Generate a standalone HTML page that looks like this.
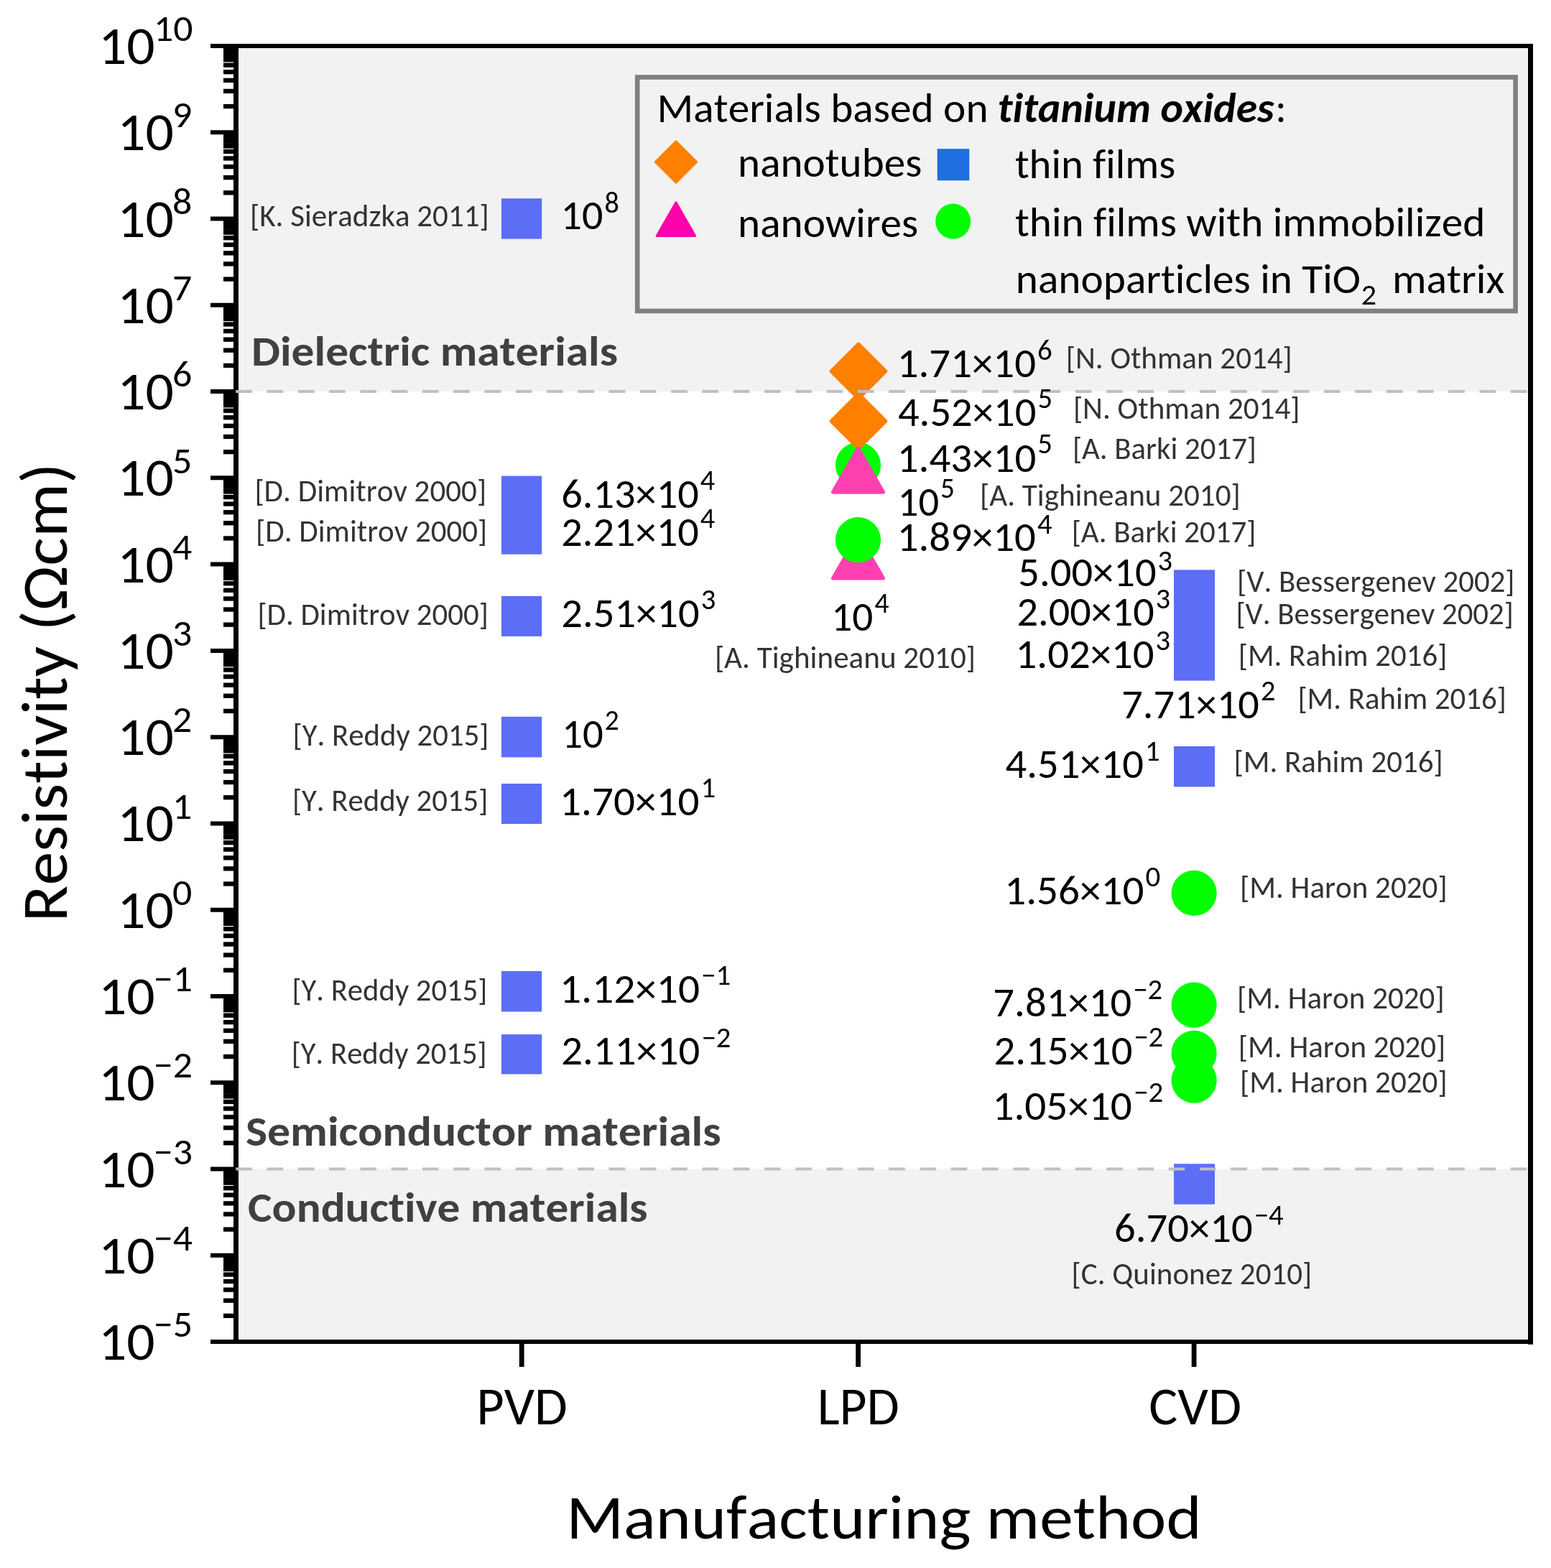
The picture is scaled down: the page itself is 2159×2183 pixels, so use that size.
<!DOCTYPE html>
<html lang="en"><head><meta charset="utf-8"><title>Resistivity of titanium oxide materials by manufacturing method</title>
<style>
html,body{margin:0;padding:0;background:#fff}
svg{display:block}
text{font-family:Carlito, 'Liberation Sans', sans-serif;white-space:pre;font-kerning:none;font-variant-ligatures:none;font-size-adjust:0.4775}
text[font-weight=bold]{font-size-adjust:0.48486}
</style></head>
<body>
<svg width="2159" height="2183" viewBox="0 0 2159 2183">
<rect width="2159" height="2183" fill="#fff"/>
<g id="shapes">
<rect x="332" y="64" width="1794.3" height="481" fill="#f2f2f2"/>
<rect x="332" y="1627.5" width="1794.3" height="237.7" fill="#f2f2f2"/>
<rect x="698" y="276.3" width="56.2" height="56.3" fill="#5b6ef5"/>
<rect x="698" y="662.6" width="56.2" height="109.1" fill="#5b6ef5"/>
<rect x="698" y="829.9" width="56.2" height="56.0" fill="#5b6ef5"/>
<rect x="698" y="997.8" width="56.2" height="56.5" fill="#5b6ef5"/>
<rect x="698" y="1091.0" width="56.2" height="56.0" fill="#5b6ef5"/>
<rect x="698" y="1352" width="56.2" height="56.5" fill="#5b6ef5"/>
<rect x="698" y="1440.1" width="56.2" height="55.4" fill="#5b6ef5"/>
<rect x="1634" y="793.4" width="57.0" height="154.2" fill="#5b6ef5"/>
<rect x="1634" y="1039" width="57.0" height="56.4" fill="#5b6ef5"/>
<rect x="1634" y="1620.3" width="57.0" height="56.4" fill="#5b6ef5"/>
<circle cx="1662.1" cy="1243.4" r="31.6" fill="#00ff00"/>
<circle cx="1662.1" cy="1504.2" r="31.6" fill="#00ff00"/>
<circle cx="1662.1" cy="1466.4" r="31.6" fill="#00ff00"/>
<circle cx="1662.1" cy="1399.2" r="31.6" fill="#00ff00"/>
<path d="M1159.6 805.0L1194.5 744.5L1229.4 805.0Z" fill="#ff40b0" stroke="#ff40b0" stroke-width="5.2" stroke-linejoin="round"/>
<circle cx="1194.5" cy="751.7" r="31.6" fill="#00ff00"/>
<circle cx="1194.5" cy="647.5" r="31.6" fill="#00ff00"/>
<path d="M1157.8 516.9L1195.0 479.7L1232.2 516.9L1195.0 554.1Z" fill="#ff8000" stroke="#ff8000" stroke-width="6.0" stroke-linejoin="round"/>
<path d="M1157.8 586.3L1195.0 549.1L1232.2 586.3L1195.0 623.5Z" fill="#ff8000" stroke="#ff8000" stroke-width="6.0" stroke-linejoin="round"/>
<path d="M1159.6 685.1L1194.5 624.6L1229.4 685.1Z" fill="#ff40b0" stroke="#ff40b0" stroke-width="5.2" stroke-linejoin="round"/>
<rect x="887.2" y="107.5" width="1222.4" height="325.5" fill="#f2f2f2" stroke="#808080" stroke-width="6.6"/>
<path d="M912.3 225.5L941 196.8L969.7 225.5L941 254.2Z" fill="#ff8000" stroke="#ff8000" stroke-width="3.0" stroke-linejoin="round"/>
<path d="M914.2 328.5L941 281.8L967.7 328.5Z" fill="#ff00aa" stroke="#ff00aa" stroke-width="3" stroke-linejoin="round"/>
<rect x="1304.7" y="207.2" width="44.6" height="44.1" fill="#1f6fe0"/>
<circle cx="1326.7" cy="308.1" r="24.5" fill="#00ff00"/>
<g stroke="#000" fill="none">
<line x1="293" y1="1868.05" x2="330" y2="1868.05" stroke-width="6"/>
<line x1="311" y1="1831.85" x2="328" y2="1831.85" stroke-width="6.3"/>
<line x1="311" y1="1810.67" x2="328" y2="1810.67" stroke-width="6.3"/>
<line x1="311" y1="1795.64" x2="328" y2="1795.64" stroke-width="6.3"/>
<line x1="311" y1="1783.98" x2="328" y2="1783.98" stroke-width="6.3"/>
<line x1="311" y1="1774.46" x2="328" y2="1774.46" stroke-width="6.3"/>
<line x1="311" y1="1766.41" x2="328" y2="1766.41" stroke-width="7.4"/>
<line x1="311" y1="1759.44" x2="328" y2="1759.44" stroke-width="7.4"/>
<line x1="311" y1="1753.28" x2="328" y2="1753.28" stroke-width="7.4"/>
<line x1="293" y1="1747.78" x2="330" y2="1747.78" stroke-width="6"/>
<line x1="311" y1="1711.58" x2="328" y2="1711.58" stroke-width="6.3"/>
<line x1="311" y1="1690.40" x2="328" y2="1690.40" stroke-width="6.3"/>
<line x1="311" y1="1675.37" x2="328" y2="1675.37" stroke-width="6.3"/>
<line x1="311" y1="1663.71" x2="328" y2="1663.71" stroke-width="6.3"/>
<line x1="311" y1="1654.19" x2="328" y2="1654.19" stroke-width="6.3"/>
<line x1="311" y1="1646.14" x2="328" y2="1646.14" stroke-width="7.4"/>
<line x1="311" y1="1639.17" x2="328" y2="1639.17" stroke-width="7.4"/>
<line x1="311" y1="1633.01" x2="328" y2="1633.01" stroke-width="7.4"/>
<line x1="293" y1="1627.51" x2="330" y2="1627.51" stroke-width="6"/>
<line x1="311" y1="1591.31" x2="328" y2="1591.31" stroke-width="6.3"/>
<line x1="311" y1="1570.13" x2="328" y2="1570.13" stroke-width="6.3"/>
<line x1="311" y1="1555.10" x2="328" y2="1555.10" stroke-width="6.3"/>
<line x1="311" y1="1543.44" x2="328" y2="1543.44" stroke-width="6.3"/>
<line x1="311" y1="1533.92" x2="328" y2="1533.92" stroke-width="6.3"/>
<line x1="311" y1="1525.87" x2="328" y2="1525.87" stroke-width="7.4"/>
<line x1="311" y1="1518.90" x2="328" y2="1518.90" stroke-width="7.4"/>
<line x1="311" y1="1512.74" x2="328" y2="1512.74" stroke-width="7.4"/>
<line x1="293" y1="1507.24" x2="330" y2="1507.24" stroke-width="6"/>
<line x1="311" y1="1471.04" x2="328" y2="1471.04" stroke-width="6.3"/>
<line x1="311" y1="1449.86" x2="328" y2="1449.86" stroke-width="6.3"/>
<line x1="311" y1="1434.83" x2="328" y2="1434.83" stroke-width="6.3"/>
<line x1="311" y1="1423.17" x2="328" y2="1423.17" stroke-width="6.3"/>
<line x1="311" y1="1413.65" x2="328" y2="1413.65" stroke-width="6.3"/>
<line x1="311" y1="1405.60" x2="328" y2="1405.60" stroke-width="7.4"/>
<line x1="311" y1="1398.63" x2="328" y2="1398.63" stroke-width="7.4"/>
<line x1="311" y1="1392.47" x2="328" y2="1392.47" stroke-width="7.4"/>
<line x1="293" y1="1386.97" x2="330" y2="1386.97" stroke-width="6"/>
<line x1="311" y1="1350.77" x2="328" y2="1350.77" stroke-width="6.3"/>
<line x1="311" y1="1329.59" x2="328" y2="1329.59" stroke-width="6.3"/>
<line x1="311" y1="1314.56" x2="328" y2="1314.56" stroke-width="6.3"/>
<line x1="311" y1="1302.90" x2="328" y2="1302.90" stroke-width="6.3"/>
<line x1="311" y1="1293.38" x2="328" y2="1293.38" stroke-width="6.3"/>
<line x1="311" y1="1285.33" x2="328" y2="1285.33" stroke-width="7.4"/>
<line x1="311" y1="1278.36" x2="328" y2="1278.36" stroke-width="7.4"/>
<line x1="311" y1="1272.20" x2="328" y2="1272.20" stroke-width="7.4"/>
<line x1="293" y1="1266.70" x2="330" y2="1266.70" stroke-width="6"/>
<line x1="311" y1="1230.50" x2="328" y2="1230.50" stroke-width="6.3"/>
<line x1="311" y1="1209.32" x2="328" y2="1209.32" stroke-width="6.3"/>
<line x1="311" y1="1194.29" x2="328" y2="1194.29" stroke-width="6.3"/>
<line x1="311" y1="1182.63" x2="328" y2="1182.63" stroke-width="6.3"/>
<line x1="311" y1="1173.11" x2="328" y2="1173.11" stroke-width="6.3"/>
<line x1="311" y1="1165.06" x2="328" y2="1165.06" stroke-width="7.4"/>
<line x1="311" y1="1158.09" x2="328" y2="1158.09" stroke-width="7.4"/>
<line x1="311" y1="1151.93" x2="328" y2="1151.93" stroke-width="7.4"/>
<line x1="293" y1="1146.43" x2="330" y2="1146.43" stroke-width="6"/>
<line x1="311" y1="1110.23" x2="328" y2="1110.23" stroke-width="6.3"/>
<line x1="311" y1="1089.05" x2="328" y2="1089.05" stroke-width="6.3"/>
<line x1="311" y1="1074.02" x2="328" y2="1074.02" stroke-width="6.3"/>
<line x1="311" y1="1062.36" x2="328" y2="1062.36" stroke-width="6.3"/>
<line x1="311" y1="1052.84" x2="328" y2="1052.84" stroke-width="6.3"/>
<line x1="311" y1="1044.79" x2="328" y2="1044.79" stroke-width="7.4"/>
<line x1="311" y1="1037.82" x2="328" y2="1037.82" stroke-width="7.4"/>
<line x1="311" y1="1031.66" x2="328" y2="1031.66" stroke-width="7.4"/>
<line x1="293" y1="1026.16" x2="330" y2="1026.16" stroke-width="6"/>
<line x1="311" y1="989.96" x2="328" y2="989.96" stroke-width="6.3"/>
<line x1="311" y1="968.78" x2="328" y2="968.78" stroke-width="6.3"/>
<line x1="311" y1="953.75" x2="328" y2="953.75" stroke-width="6.3"/>
<line x1="311" y1="942.09" x2="328" y2="942.09" stroke-width="6.3"/>
<line x1="311" y1="932.57" x2="328" y2="932.57" stroke-width="6.3"/>
<line x1="311" y1="924.52" x2="328" y2="924.52" stroke-width="7.4"/>
<line x1="311" y1="917.55" x2="328" y2="917.55" stroke-width="7.4"/>
<line x1="311" y1="911.39" x2="328" y2="911.39" stroke-width="7.4"/>
<line x1="293" y1="905.89" x2="330" y2="905.89" stroke-width="6"/>
<line x1="311" y1="869.69" x2="328" y2="869.69" stroke-width="6.3"/>
<line x1="311" y1="848.51" x2="328" y2="848.51" stroke-width="6.3"/>
<line x1="311" y1="833.48" x2="328" y2="833.48" stroke-width="6.3"/>
<line x1="311" y1="821.82" x2="328" y2="821.82" stroke-width="6.3"/>
<line x1="311" y1="812.30" x2="328" y2="812.30" stroke-width="6.3"/>
<line x1="311" y1="804.25" x2="328" y2="804.25" stroke-width="7.4"/>
<line x1="311" y1="797.28" x2="328" y2="797.28" stroke-width="7.4"/>
<line x1="311" y1="791.12" x2="328" y2="791.12" stroke-width="7.4"/>
<line x1="293" y1="785.62" x2="330" y2="785.62" stroke-width="6"/>
<line x1="311" y1="749.42" x2="328" y2="749.42" stroke-width="6.3"/>
<line x1="311" y1="728.24" x2="328" y2="728.24" stroke-width="6.3"/>
<line x1="311" y1="713.21" x2="328" y2="713.21" stroke-width="6.3"/>
<line x1="311" y1="701.55" x2="328" y2="701.55" stroke-width="6.3"/>
<line x1="311" y1="692.03" x2="328" y2="692.03" stroke-width="6.3"/>
<line x1="311" y1="683.98" x2="328" y2="683.98" stroke-width="7.4"/>
<line x1="311" y1="677.01" x2="328" y2="677.01" stroke-width="7.4"/>
<line x1="311" y1="670.85" x2="328" y2="670.85" stroke-width="7.4"/>
<line x1="293" y1="665.35" x2="330" y2="665.35" stroke-width="6"/>
<line x1="311" y1="629.15" x2="328" y2="629.15" stroke-width="6.3"/>
<line x1="311" y1="607.97" x2="328" y2="607.97" stroke-width="6.3"/>
<line x1="311" y1="592.94" x2="328" y2="592.94" stroke-width="6.3"/>
<line x1="311" y1="581.28" x2="328" y2="581.28" stroke-width="6.3"/>
<line x1="311" y1="571.76" x2="328" y2="571.76" stroke-width="6.3"/>
<line x1="311" y1="563.71" x2="328" y2="563.71" stroke-width="7.4"/>
<line x1="311" y1="556.74" x2="328" y2="556.74" stroke-width="7.4"/>
<line x1="311" y1="550.58" x2="328" y2="550.58" stroke-width="7.4"/>
<line x1="293" y1="545.08" x2="330" y2="545.08" stroke-width="6"/>
<line x1="311" y1="508.88" x2="328" y2="508.88" stroke-width="6.3"/>
<line x1="311" y1="487.70" x2="328" y2="487.70" stroke-width="6.3"/>
<line x1="311" y1="472.67" x2="328" y2="472.67" stroke-width="6.3"/>
<line x1="311" y1="461.01" x2="328" y2="461.01" stroke-width="6.3"/>
<line x1="311" y1="451.49" x2="328" y2="451.49" stroke-width="6.3"/>
<line x1="311" y1="443.44" x2="328" y2="443.44" stroke-width="7.4"/>
<line x1="311" y1="436.47" x2="328" y2="436.47" stroke-width="7.4"/>
<line x1="311" y1="430.31" x2="328" y2="430.31" stroke-width="7.4"/>
<line x1="293" y1="424.81" x2="330" y2="424.81" stroke-width="6"/>
<line x1="311" y1="388.61" x2="328" y2="388.61" stroke-width="6.3"/>
<line x1="311" y1="367.43" x2="328" y2="367.43" stroke-width="6.3"/>
<line x1="311" y1="352.40" x2="328" y2="352.40" stroke-width="6.3"/>
<line x1="311" y1="340.74" x2="328" y2="340.74" stroke-width="6.3"/>
<line x1="311" y1="331.22" x2="328" y2="331.22" stroke-width="6.3"/>
<line x1="311" y1="323.17" x2="328" y2="323.17" stroke-width="7.4"/>
<line x1="311" y1="316.20" x2="328" y2="316.20" stroke-width="7.4"/>
<line x1="311" y1="310.04" x2="328" y2="310.04" stroke-width="7.4"/>
<line x1="293" y1="304.54" x2="330" y2="304.54" stroke-width="6"/>
<line x1="311" y1="268.34" x2="328" y2="268.34" stroke-width="6.3"/>
<line x1="311" y1="247.16" x2="328" y2="247.16" stroke-width="6.3"/>
<line x1="311" y1="232.13" x2="328" y2="232.13" stroke-width="6.3"/>
<line x1="311" y1="220.47" x2="328" y2="220.47" stroke-width="6.3"/>
<line x1="311" y1="210.95" x2="328" y2="210.95" stroke-width="6.3"/>
<line x1="311" y1="202.90" x2="328" y2="202.90" stroke-width="7.4"/>
<line x1="311" y1="195.93" x2="328" y2="195.93" stroke-width="7.4"/>
<line x1="311" y1="189.77" x2="328" y2="189.77" stroke-width="7.4"/>
<line x1="293" y1="184.27" x2="330" y2="184.27" stroke-width="6"/>
<line x1="311" y1="148.07" x2="328" y2="148.07" stroke-width="6.3"/>
<line x1="311" y1="126.89" x2="328" y2="126.89" stroke-width="6.3"/>
<line x1="311" y1="111.86" x2="328" y2="111.86" stroke-width="6.3"/>
<line x1="311" y1="100.20" x2="328" y2="100.20" stroke-width="6.3"/>
<line x1="311" y1="90.68" x2="328" y2="90.68" stroke-width="6.3"/>
<line x1="311" y1="82.63" x2="328" y2="82.63" stroke-width="7.4"/>
<line x1="311" y1="75.66" x2="328" y2="75.66" stroke-width="7.4"/>
<line x1="311" y1="69.50" x2="328" y2="69.50" stroke-width="7.4"/>
<line x1="293" y1="64.00" x2="330" y2="64.00" stroke-width="6"/>
<line x1="328.5" y1="61.10" x2="328.5" y2="1870.90" stroke-width="7"/>
<line x1="2130.5" y1="61.10" x2="2130.5" y2="1871.70" stroke-width="7"/>
<line x1="325.0" y1="64.0" x2="2134.0" y2="64.0" stroke-width="5.8"/>
<line x1="293" y1="1868.0" x2="2134.0" y2="1868.0" stroke-width="5.8"/>
<line x1="726.2" y1="1868.0" x2="726.2" y2="1903" stroke-width="6.8"/>
<line x1="1194.6" y1="1868.0" x2="1194.6" y2="1903" stroke-width="6.8"/>
<line x1="1662.1" y1="1868.0" x2="1662.1" y2="1903" stroke-width="6.8"/>
</g>
<line x1="328.3" y1="545.0" x2="2127" y2="545.0" stroke="#bfbfbf" stroke-width="4" stroke-dasharray="22.6 20.68"/>
<line x1="328.3" y1="1627.6" x2="2127" y2="1627.6" stroke="#bfbfbf" stroke-width="4" stroke-dasharray="22.6 20.68"/>
</g>
<g id="txt">
<text x="137.0" y="1893.0" font-size="75" textLength="78.7" lengthAdjust="spacingAndGlyphs">10</text>
<text x="213.9" y="1861.1" font-size="52" textLength="54.1" lengthAdjust="spacingAndGlyphs">−5</text>
<text x="137.0" y="1772.8" font-size="75" textLength="78.7" lengthAdjust="spacingAndGlyphs">10</text>
<text x="213.9" y="1740.9" font-size="52" textLength="54.1" lengthAdjust="spacingAndGlyphs">−4</text>
<text x="137.0" y="1652.5" font-size="75" textLength="78.7" lengthAdjust="spacingAndGlyphs">10</text>
<text x="213.9" y="1620.6" font-size="52" textLength="54.1" lengthAdjust="spacingAndGlyphs">−3</text>
<text x="137.0" y="1532.2" font-size="75" textLength="78.7" lengthAdjust="spacingAndGlyphs">10</text>
<text x="213.9" y="1500.3" font-size="52" textLength="54.1" lengthAdjust="spacingAndGlyphs">−2</text>
<text x="137.0" y="1412.0" font-size="75" textLength="78.7" lengthAdjust="spacingAndGlyphs">10</text>
<text x="213.9" y="1380.1" font-size="52" textLength="54.1" lengthAdjust="spacingAndGlyphs">−1</text>
<text x="163.2" y="1291.7" font-size="75" textLength="78.7" lengthAdjust="spacingAndGlyphs">10</text>
<text x="240.1" y="1259.8" font-size="52" textLength="27.3" lengthAdjust="spacingAndGlyphs">0</text>
<text x="163.2" y="1171.4" font-size="75" textLength="78.7" lengthAdjust="spacingAndGlyphs">10</text>
<text x="240.1" y="1139.5" font-size="52" textLength="27.3" lengthAdjust="spacingAndGlyphs">1</text>
<text x="163.2" y="1051.2" font-size="75" textLength="78.7" lengthAdjust="spacingAndGlyphs">10</text>
<text x="240.1" y="1019.3" font-size="52" textLength="27.3" lengthAdjust="spacingAndGlyphs">2</text>
<text x="163.2" y="930.9" font-size="75" textLength="78.7" lengthAdjust="spacingAndGlyphs">10</text>
<text x="240.1" y="899.0" font-size="52" textLength="27.3" lengthAdjust="spacingAndGlyphs">3</text>
<text x="163.2" y="810.6" font-size="75" textLength="78.7" lengthAdjust="spacingAndGlyphs">10</text>
<text x="240.1" y="778.7" font-size="52" textLength="27.3" lengthAdjust="spacingAndGlyphs">4</text>
<text x="163.2" y="690.4" font-size="75" textLength="78.7" lengthAdjust="spacingAndGlyphs">10</text>
<text x="240.1" y="658.5" font-size="52" textLength="27.3" lengthAdjust="spacingAndGlyphs">5</text>
<text x="163.2" y="570.1" font-size="75" textLength="78.7" lengthAdjust="spacingAndGlyphs">10</text>
<text x="240.1" y="538.2" font-size="52" textLength="27.3" lengthAdjust="spacingAndGlyphs">6</text>
<text x="163.2" y="449.8" font-size="75" textLength="78.7" lengthAdjust="spacingAndGlyphs">10</text>
<text x="240.1" y="417.9" font-size="52" textLength="27.3" lengthAdjust="spacingAndGlyphs">7</text>
<text x="163.2" y="329.5" font-size="75" textLength="78.7" lengthAdjust="spacingAndGlyphs">10</text>
<text x="240.1" y="297.6" font-size="52" textLength="27.3" lengthAdjust="spacingAndGlyphs">8</text>
<text x="163.2" y="209.3" font-size="75" textLength="78.7" lengthAdjust="spacingAndGlyphs">10</text>
<text x="240.1" y="177.4" font-size="52" textLength="27.3" lengthAdjust="spacingAndGlyphs">9</text>
<text x="137.0" y="89.0" font-size="75" textLength="78.7" lengthAdjust="spacingAndGlyphs">10</text>
<text x="213.9" y="57.1" font-size="52" textLength="54.5" lengthAdjust="spacingAndGlyphs">10</text>
<text x="663.2" y="1983.2" font-size="75" textLength="126.5" lengthAdjust="spacingAndGlyphs">PVD</text>
<text x="1137.7" y="1983.2" font-size="75" textLength="114.2" lengthAdjust="spacingAndGlyphs">LPD</text>
<text x="1599.3" y="1983.2" font-size="75" textLength="128.8" lengthAdjust="spacingAndGlyphs">CVD</text>
<text x="788.2" y="2142.0" font-size="87" textLength="884.3" lengthAdjust="spacingAndGlyphs">Manufacturing method</text>
<text transform="translate(93.3 1277.1) rotate(-90)" x="-6.3" y="0.0" font-size="90" textLength="638.8" lengthAdjust="spacingAndGlyphs">Resistivity (Ωcm)</text>
<text x="350.0" y="508.6" font-size="58" textLength="510.0" lengthAdjust="spacingAndGlyphs" font-weight="bold" fill="#404040">Dielectric materials</text>
<text x="341.9" y="1594.9" font-size="58" textLength="661.8" lengthAdjust="spacingAndGlyphs" font-weight="bold" fill="#404040">Semiconductor materials</text>
<text x="345.1" y="1701.0" font-size="58" textLength="556.4" lengthAdjust="spacingAndGlyphs" font-weight="bold" fill="#404040">Conductive materials</text>
<text x="914.6" y="170.0" font-size="58" textLength="461.0" lengthAdjust="spacingAndGlyphs">Materials based on</text>
<text x="1388.8" y="170.0" font-size="58" textLength="384.7" lengthAdjust="spacingAndGlyphs" font-weight="bold" font-style="italic">titanium oxides</text>
<text x="1775.2" y="170.0" font-size="58" textLength="15.5" lengthAdjust="spacingAndGlyphs">:</text>
<text x="1027.1" y="245.7" font-size="58" textLength="256.2" lengthAdjust="spacingAndGlyphs">nanotubes</text>
<text x="1027.1" y="330.3" font-size="58" textLength="251.2" lengthAdjust="spacingAndGlyphs">nanowires</text>
<text x="1412.9" y="248.4" font-size="58" textLength="223.3" lengthAdjust="spacingAndGlyphs">thin films</text>
<text x="1412.9" y="328.6" font-size="58" textLength="654.5" lengthAdjust="spacingAndGlyphs">thin films with immobilized</text>
<text x="1413.8" y="407.7" font-size="58" textLength="480.3" lengthAdjust="spacingAndGlyphs">nanoparticles in TiO</text>
<text x="1894.8" y="424.0" font-size="41" textLength="21.3" lengthAdjust="spacingAndGlyphs">2</text>
<text x="1937.9" y="407.7" font-size="58" textLength="156.3" lengthAdjust="spacingAndGlyphs">matrix</text>
<text x="348.0" y="315.0" font-size="44" textLength="332.7" lengthAdjust="spacingAndGlyphs" fill="#333">[K. Sieradzka 2011]</text>
<text x="780.4" y="319.3" font-size="58.5" textLength="59.0" lengthAdjust="spacingAndGlyphs">10</text>
<text x="841.4" y="296.1" font-size="40.5" textLength="20.4" lengthAdjust="spacingAndGlyphs">8</text>
<text x="354.4" y="697.5" font-size="44" textLength="322.7" lengthAdjust="spacingAndGlyphs" fill="#333">[D. Dimitrov 2000]</text>
<text x="781.2" y="706.8" font-size="58.5" textLength="191.6" lengthAdjust="spacingAndGlyphs">6.13×10</text>
<text x="974.8" y="681.6" font-size="40.5" textLength="20.5" lengthAdjust="spacingAndGlyphs">4</text>
<text x="356.1" y="754.1" font-size="44" textLength="322.1" lengthAdjust="spacingAndGlyphs" fill="#333">[D. Dimitrov 2000]</text>
<text x="781.2" y="759.7" font-size="58.5" textLength="191.6" lengthAdjust="spacingAndGlyphs">2.21×10</text>
<text x="974.8" y="734.5" font-size="40.5" textLength="20.5" lengthAdjust="spacingAndGlyphs">4</text>
<text x="358.4" y="869.9" font-size="44" textLength="321.5" lengthAdjust="spacingAndGlyphs" fill="#333">[D. Dimitrov 2000]</text>
<text x="781.2" y="872.8" font-size="58.5" textLength="192.5" lengthAdjust="spacingAndGlyphs">2.51×10</text>
<text x="975.7" y="847.6" font-size="40.5" textLength="20.6" lengthAdjust="spacingAndGlyphs">3</text>
<text x="407.6" y="1038.3" font-size="44" textLength="272.9" lengthAdjust="spacingAndGlyphs" fill="#333">[Y. Reddy 2015]</text>
<text x="782.2" y="1041.2" font-size="58.5" textLength="57.6" lengthAdjust="spacingAndGlyphs">10</text>
<text x="841.8" y="1016.0" font-size="40.5" textLength="20.0" lengthAdjust="spacingAndGlyphs">2</text>
<text x="406.9" y="1128.7" font-size="44" textLength="272.4" lengthAdjust="spacingAndGlyphs" fill="#333">[Y. Reddy 2015]</text>
<text x="779.1" y="1134.7" font-size="58.5" textLength="194.3" lengthAdjust="spacingAndGlyphs">1.70×10</text>
<text x="975.5" y="1109.5" font-size="40.5" textLength="20.8" lengthAdjust="spacingAndGlyphs">1</text>
<text x="406.4" y="1392.5" font-size="44" textLength="272.0" lengthAdjust="spacingAndGlyphs" fill="#333">[Y. Reddy 2015]</text>
<text x="779.1" y="1395.9" font-size="58.5" textLength="194.9" lengthAdjust="spacingAndGlyphs">1.12×10</text>
<text x="976.0" y="1370.7" font-size="40.5" textLength="41.3" lengthAdjust="spacingAndGlyphs">−1</text>
<text x="405.7" y="1480.5" font-size="44" textLength="272.0" lengthAdjust="spacingAndGlyphs" fill="#333">[Y. Reddy 2015]</text>
<text x="781.2" y="1481.8" font-size="58.5" textLength="193.2" lengthAdjust="spacingAndGlyphs">2.11×10</text>
<text x="976.4" y="1458.1" font-size="40.5" textLength="40.9" lengthAdjust="spacingAndGlyphs">−2</text>
<text x="1248.7" y="524.6" font-size="58.5" textLength="193.3" lengthAdjust="spacingAndGlyphs">1.71×10</text>
<text x="1444.0" y="501.2" font-size="40.5" textLength="20.7" lengthAdjust="spacingAndGlyphs">6</text>
<text x="1483.8" y="513.1" font-size="44" textLength="315.0" lengthAdjust="spacingAndGlyphs" fill="#333">[N. Othman 2014]</text>
<text x="1249.9" y="593.4" font-size="58.5" textLength="192.5" lengthAdjust="spacingAndGlyphs">4.52×10</text>
<text x="1444.4" y="568.2" font-size="40.5" textLength="20.6" lengthAdjust="spacingAndGlyphs">5</text>
<text x="1493.9" y="583.2" font-size="44" textLength="315.7" lengthAdjust="spacingAndGlyphs" fill="#333">[N. Othman 2014]</text>
<text x="1248.7" y="656.6" font-size="58.5" textLength="193.6" lengthAdjust="spacingAndGlyphs">1.43×10</text>
<text x="1444.3" y="631.4" font-size="40.5" textLength="20.7" lengthAdjust="spacingAndGlyphs">5</text>
<text x="1492.9" y="639.2" font-size="44" textLength="256.1" lengthAdjust="spacingAndGlyphs" fill="#333">[A. Barki 2017]</text>
<text x="1249.7" y="717.7" font-size="58.5" textLength="57.4" lengthAdjust="spacingAndGlyphs">10</text>
<text x="1309.0" y="692.5" font-size="40.5" textLength="19.9" lengthAdjust="spacingAndGlyphs">5</text>
<text x="1364.1" y="703.9" font-size="44" textLength="362.6" lengthAdjust="spacingAndGlyphs" fill="#333">[A. Tighineanu 2010]</text>
<text x="1248.7" y="767.4" font-size="58.5" textLength="193.2" lengthAdjust="spacingAndGlyphs">1.89×10</text>
<text x="1443.9" y="743.4" font-size="40.5" textLength="20.6" lengthAdjust="spacingAndGlyphs">4</text>
<text x="1491.7" y="754.7" font-size="44" textLength="256.7" lengthAdjust="spacingAndGlyphs" fill="#333">[A. Barki 2017]</text>
<text x="1157.3" y="877.6" font-size="58.5" textLength="58.1" lengthAdjust="spacingAndGlyphs">10</text>
<text x="1217.4" y="853.1" font-size="40.5" textLength="20.1" lengthAdjust="spacingAndGlyphs">4</text>
<text x="994.9" y="929.7" font-size="44" textLength="363.1" lengthAdjust="spacingAndGlyphs" fill="#333">[A. Tighineanu 2010]</text>
<text x="1417.3" y="816.0" font-size="58.5" textLength="192.3" lengthAdjust="spacingAndGlyphs">5.00×10</text>
<text x="1611.6" y="793.5" font-size="40.5" textLength="20.5" lengthAdjust="spacingAndGlyphs">3</text>
<text x="1722.1" y="823.8" font-size="44" textLength="386.4" lengthAdjust="spacingAndGlyphs" fill="#333">[V. Bessergenev 2002]</text>
<text x="1415.5" y="870.8" font-size="58.5" textLength="191.3" lengthAdjust="spacingAndGlyphs">2.00×10</text>
<text x="1608.8" y="846.6" font-size="40.5" textLength="20.4" lengthAdjust="spacingAndGlyphs">3</text>
<text x="1720.4" y="868.9" font-size="44" textLength="386.5" lengthAdjust="spacingAndGlyphs" fill="#333">[V. Bessergenev 2002]</text>
<text x="1413.5" y="930.1" font-size="58.5" textLength="193.1" lengthAdjust="spacingAndGlyphs">1.02×10</text>
<text x="1608.6" y="905.4" font-size="40.5" textLength="20.6" lengthAdjust="spacingAndGlyphs">3</text>
<text x="1723.8" y="927.2" font-size="44" textLength="290.5" lengthAdjust="spacingAndGlyphs" fill="#333">[M. Rahim 2016]</text>
<text x="1561.3" y="1000.0" font-size="58.5" textLength="191.6" lengthAdjust="spacingAndGlyphs">7.71×10</text>
<text x="1754.9" y="974.8" font-size="40.5" textLength="20.5" lengthAdjust="spacingAndGlyphs">2</text>
<text x="1806.4" y="986.9" font-size="44" textLength="290.6" lengthAdjust="spacingAndGlyphs" fill="#333">[M. Rahim 2016]</text>
<text x="1399.5" y="1082.9" font-size="58.5" textLength="192.4" lengthAdjust="spacingAndGlyphs">4.51×10</text>
<text x="1593.9" y="1058.7" font-size="40.5" textLength="20.6" lengthAdjust="spacingAndGlyphs">1</text>
<text x="1717.5" y="1075.1" font-size="44" textLength="291.2" lengthAdjust="spacingAndGlyphs" fill="#333">[M. Rahim 2016]</text>
<text x="1398.2" y="1258.9" font-size="58.5" textLength="194.2" lengthAdjust="spacingAndGlyphs">1.56×10</text>
<text x="1594.5" y="1234.4" font-size="40.5" textLength="20.8" lengthAdjust="spacingAndGlyphs">0</text>
<text x="1726.0" y="1250.1" font-size="44" textLength="288.6" lengthAdjust="spacingAndGlyphs" fill="#333">[M. Haron 2020]</text>
<text x="1382.3" y="1414.9" font-size="58.5" textLength="192.9" lengthAdjust="spacingAndGlyphs">7.81×10</text>
<text x="1577.2" y="1390.7" font-size="40.5" textLength="40.9" lengthAdjust="spacingAndGlyphs">−2</text>
<text x="1722.1" y="1404.0" font-size="44" textLength="288.5" lengthAdjust="spacingAndGlyphs" fill="#333">[M. Haron 2020]</text>
<text x="1383.5" y="1481.9" font-size="58.5" textLength="192.9" lengthAdjust="spacingAndGlyphs">2.15×10</text>
<text x="1578.3" y="1456.7" font-size="40.5" textLength="40.8" lengthAdjust="spacingAndGlyphs">−2</text>
<text x="1723.8" y="1471.9" font-size="44" textLength="288.5" lengthAdjust="spacingAndGlyphs" fill="#333">[M. Haron 2020]</text>
<text x="1381.4" y="1559.3" font-size="58.5" textLength="194.5" lengthAdjust="spacingAndGlyphs">1.05×10</text>
<text x="1578.0" y="1534.1" font-size="40.5" textLength="41.2" lengthAdjust="spacingAndGlyphs">−2</text>
<text x="1726.0" y="1520.9" font-size="44" textLength="288.6" lengthAdjust="spacingAndGlyphs" fill="#333">[M. Haron 2020]</text>
<text x="1551.0" y="1728.6" font-size="58.5" textLength="192.7" lengthAdjust="spacingAndGlyphs">6.70×10</text>
<text x="1745.7" y="1704.6" font-size="40.5" textLength="40.8" lengthAdjust="spacingAndGlyphs">−4</text>
<text x="1491.6" y="1787.8" font-size="44" textLength="334.7" lengthAdjust="spacingAndGlyphs" fill="#333">[C. Quinonez 2010]</text>
</g>
</svg>
</body></html>
